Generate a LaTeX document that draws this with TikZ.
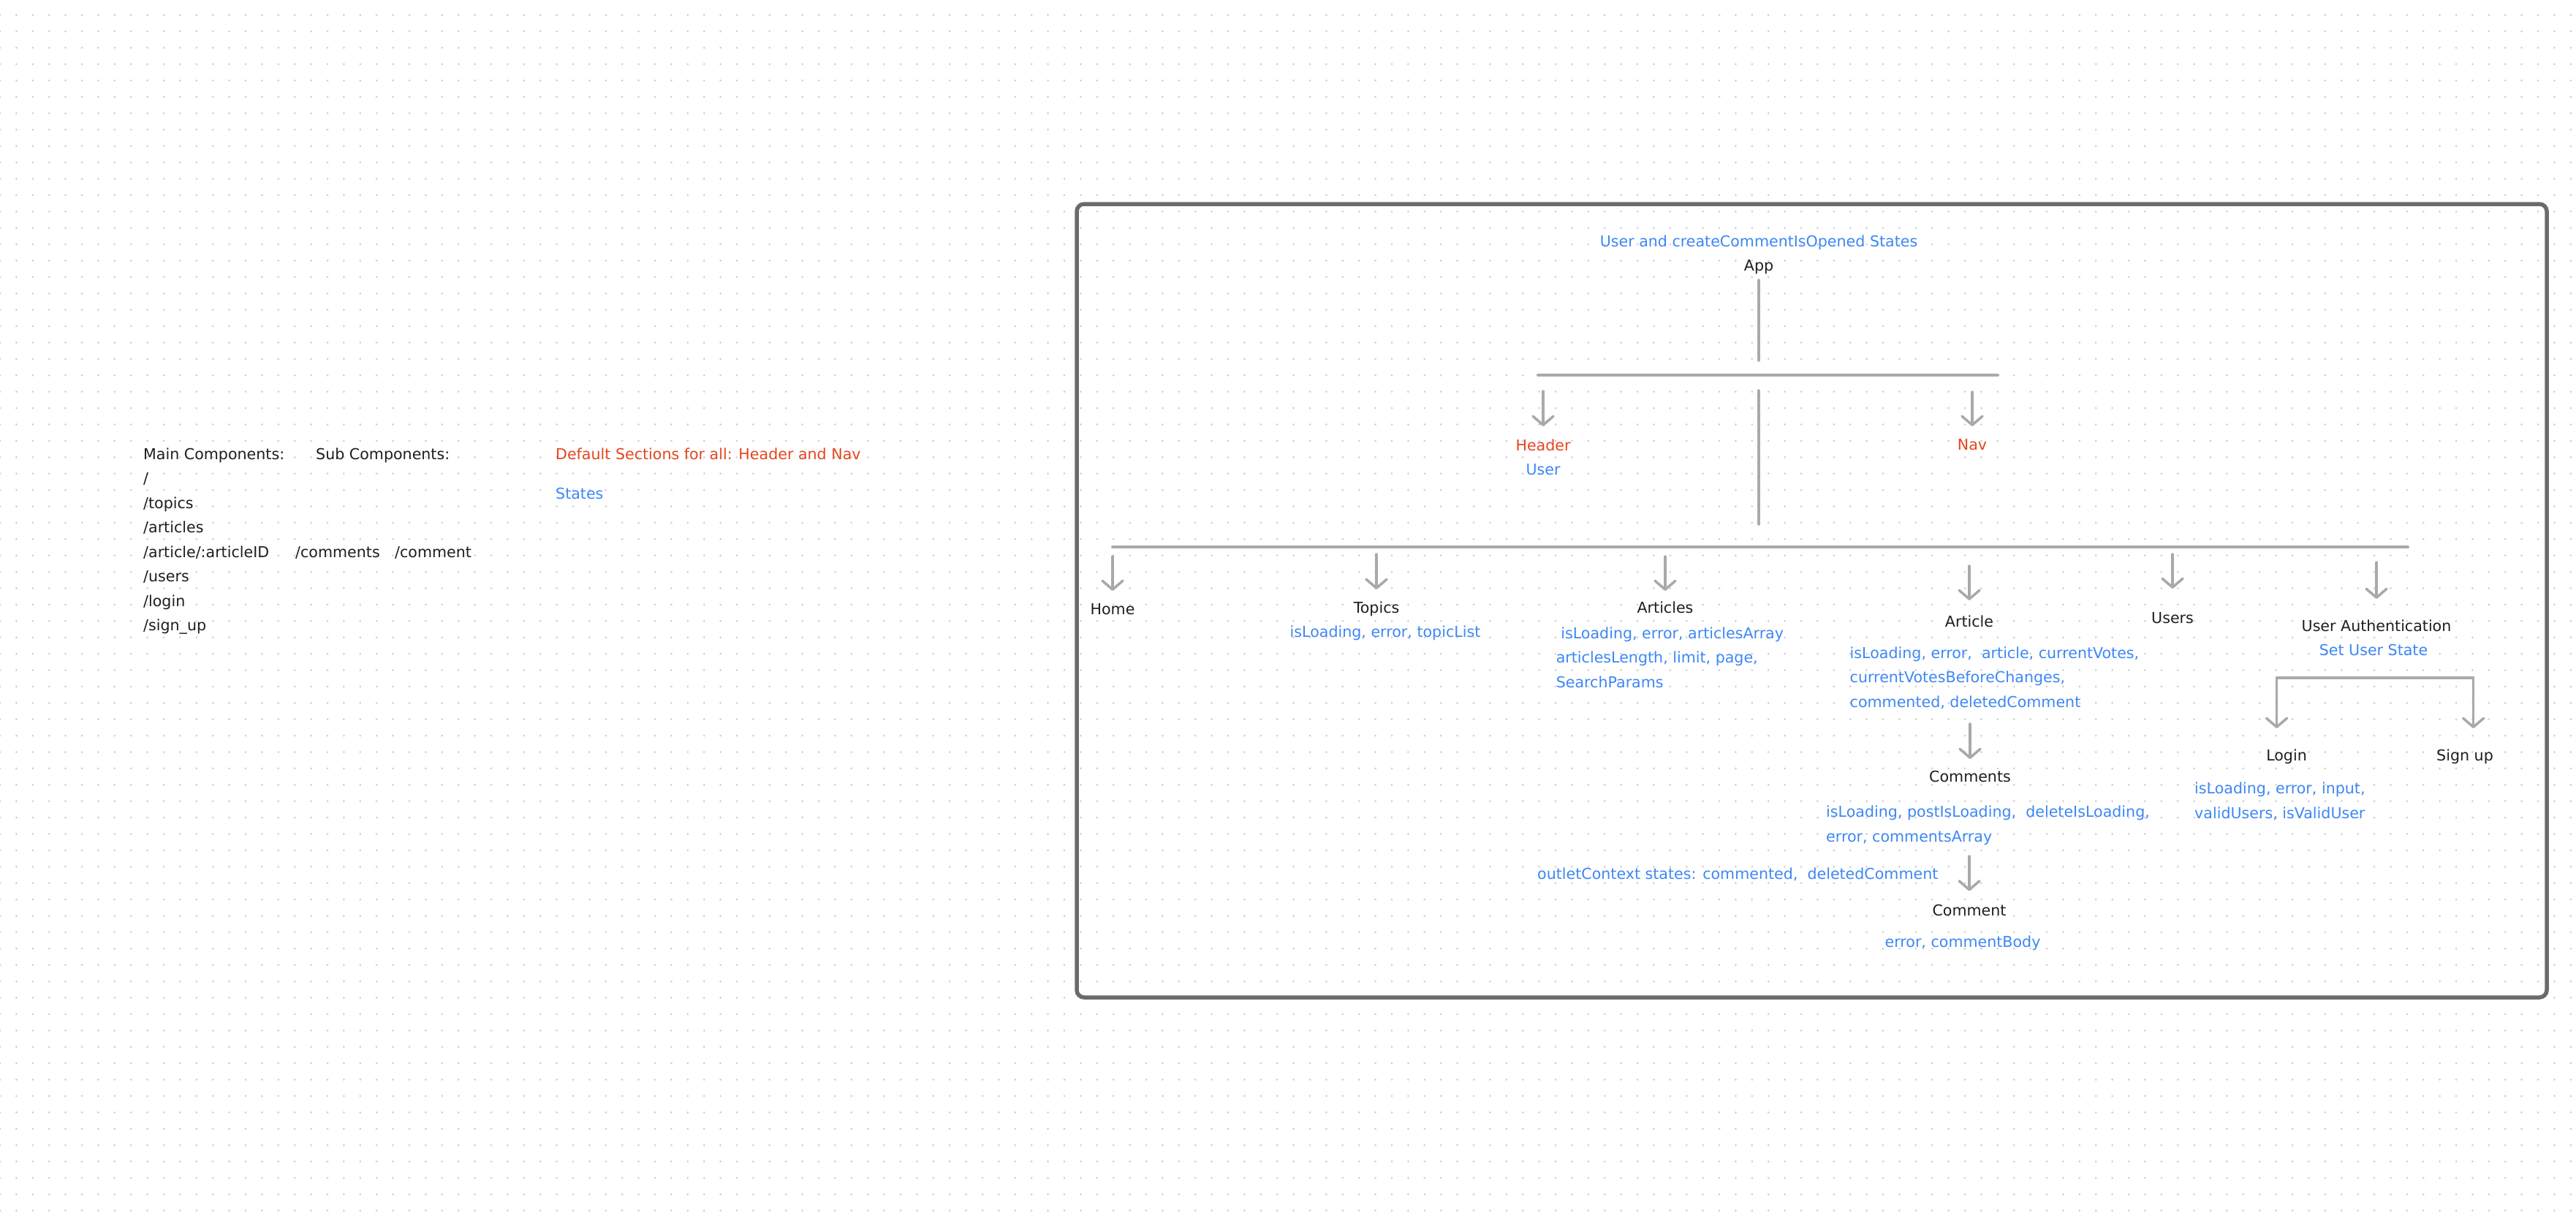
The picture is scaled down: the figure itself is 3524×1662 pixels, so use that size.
\documentclass[tikz,border=0pt]{standalone}
\usepackage{fontspec}
\setmainfont{DejaVu Sans}
\usetikzlibrary{arrows.meta}
\definecolor{ink}{HTML}{1E1E1E}
\definecolor{stblue}{HTML}{3D87F5}
\definecolor{secred}{HTML}{E4461E}
\definecolor{linegray}{HTML}{A9A9A9}
\definecolor{framegray}{HTML}{6B6B6B}
\definecolor{dotgray}{HTML}{CFCFCF}
\newcommand\diagfont{\fontsize{20.6}{33.5}\selectfont}
\tikzset{
  lbl/.style={anchor=base, inner sep=0pt, text=ink, font=\diagfont},
  st/.style={lbl, text=stblue},
  sec/.style={lbl, text=secred},
  link/.style={draw=linegray, line width=3.5pt, line cap=round},
  bar/.style={link, line width=4pt},
  arr/.style={link, -{Straight Barb[length=12pt,width=28pt,round]}},
}

\begin{document}
\begin{tikzpicture}[x=1pt,y=-1pt]
\useasboundingbox[fill=white] (0,0) rectangle (3524,1662);
% dotted canvas
\foreach \j in {0,...,73}
    \draw[dotgray, line width=3pt, line cap=round, dash pattern=on 0pt off 22.4pt] (0,20.5+22.4*\j) -- (3524,20.5+22.4*\j);

% routes
\node[lbl, anchor=base west] (main) at (196,628) {Main Components:};
\node[lbl, anchor=base west] (sub) at (432,628) {Sub Components:};
\foreach \r [count=\i] in {/,/topics,/articles,/article/:articleID,/users,/login,/sign\_up}
    \node[lbl, anchor=base west] (route\i) at (196,628+33.5*\i) {\r};
\node[lbl, anchor=base west] (subroute1) at (404,762) {/comments};
\node[lbl, anchor=base west] (subroute2) at (540,762) {/comment};
\node[sec, anchor=base west] (defaults) at (760,628) {Default Sections for all: Header and Nav};
\node[st, anchor=base west] (states) at (760,682) {States};

% frame
\draw[framegray, line width=5.5pt, rounded corners=10pt] (1473,279) rectangle (3484,1364);

% app and default sections
\node[st] (appst) at (2406,337) {User and createCommentIsOpened States};
\node[lbl] (app) at (2406,370) {App};
\coordinate (topbarl) at (2104,513);
\coordinate (topbarr) at (2733,513);
\draw[link] (app |- 0,383) -- (app |- 0,493);
\draw[bar] (topbarl) -- (topbarr);
\node[sec] (header) at (2111,616) {Header};
\node[st] (headerst) at (2111,649) {User};
\node[sec] (nav) at (2698,615) {Nav};
\draw[arr] (header |- 0,535) -- (header |- 0,583);
\draw[arr] (nav |- 0,536) -- (nav |- 0,583);

% pages
\coordinate (pagebarl) at (1522,748);
\coordinate (pagebarr) at (3294,748);
\draw[link] (app |- 0,534) -- (app |- 0,717);
\draw[bar] (pagebarl) -- (pagebarr);
\foreach \n/\t/\x/\y/\a/\b in {home/Home/1522/840/761/808, topics/Topics/1883/838/758/806,
    articles/Articles/2278/838/761/808, article/Article/2694/857/774/821,
    users/Users/2972/852/758/805, auth/User Authentication/3251/863/769/819}
{
    \node[lbl] (\n) at (\x,\y) {\t};
    \draw[arr] (\n |- 0,\a) -- (\n |- 0,\b);
}
\node[st] (topicsst) at (1895,871) {isLoading, error, topicList};
\node[st, anchor=base west, align=left] (articlesst) at (2128.6,940)
    {\ isLoading, error, articlesArray\\articlesLength, limit, page,\\SearchParams};
\node[st, anchor=base west, align=left] (articlest) at (2530.5,967)
    {isLoading, error, \ article, currentVotes,\\currentVotesBeforeChanges,\\commented, deletedComment};

% comments
\node[lbl] (comments) at (2695,1069) {Comments};
\draw[arr] (comments |- 0,990) -- (comments |- 0,1038);
\node[st, anchor=base west, align=left] (commentsst) at (2498,1151)
    {isLoading, postIsLoading, \ deleteIsLoading,\\error, commentsArray};
\node[lbl] (comment) at (2694,1252) {Comment};
\draw[arr] (comment |- 0,1171) -- (comment |- 0,1218.5);
\node[st, anchor=base west] (outlet) at (2103,1202) {outletContext states: commented, \ deletedComment};
\node[st] (commentst) at (2685,1295.5) {error, commentBody};

% user authentication
\node[st] (authst) at (3247,896.5) {Set User State};
\node[lbl] (login) at (3128,1040) {Login};
\node[lbl] (signup) at (3372,1040) {Sign up};
\coordinate (authfork) at (3249,927);
\coordinate (logintip) at (3114.5,996);
\coordinate (signuptip) at (3383.6,996);
\draw[arr] (authfork) -| (logintip);
\draw[arr] (authfork) -| (signuptip);
\node[st, anchor=base west, align=left] (loginst) at (3002,1119)
    {isLoading, error, input,\\validUsers, isValidUser};
\end{tikzpicture}
\end{document}
